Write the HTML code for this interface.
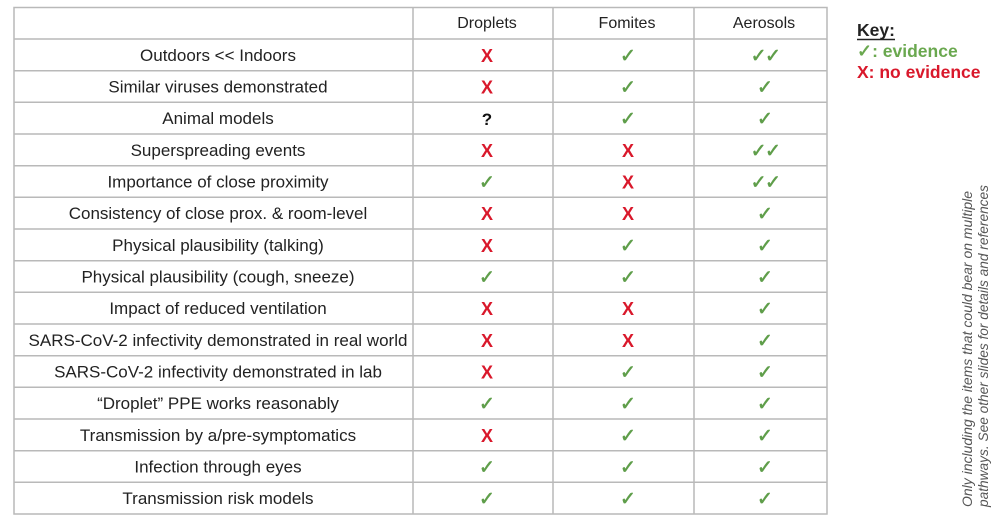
<!DOCTYPE html>
<html><head><meta charset="utf-8"><style>
html,body{margin:0;padding:0;background:#fff;}
svg{display:block;}
.lab{font-family:"Liberation Sans",Arial,sans-serif;font-size:17px;fill:#222;text-anchor:middle;}
.hd{font-family:"Liberation Sans",Arial,sans-serif;font-size:16px;fill:#222;text-anchor:middle;}
.x{font-family:"Liberation Sans",Arial,sans-serif;font-size:18px;font-weight:bold;fill:#d9182b;text-anchor:middle;}
.q{font-family:"Liberation Sans",Arial,sans-serif;font-size:17px;font-weight:bold;fill:#111;text-anchor:middle;}
.c{font-family:"DejaVu Sans",sans-serif;font-size:19px;font-weight:bold;fill:#5f9e4a;stroke:#5f9e4a;stroke-width:0.6;text-anchor:middle;}
</style></head><body>
<svg width="1000" height="520" viewBox="0 0 1000 520" xmlns="http://www.w3.org/2000/svg">
<g stroke="#b9b9b9" stroke-width="1.5" fill="none">
<rect x="14" y="7.5" width="813" height="506.5"/>
<line x1="413" y1="7.5" x2="413" y2="514"/>
<line x1="553" y1="7.5" x2="553" y2="514"/>
<line x1="694" y1="7.5" x2="694" y2="514"/>
<line x1="14" y1="39" x2="827" y2="39"/>
<line x1="14" y1="70.7" x2="827" y2="70.7"/>
<line x1="14" y1="102.3" x2="827" y2="102.3"/>
<line x1="14" y1="134" x2="827" y2="134"/>
<line x1="14" y1="165.7" x2="827" y2="165.7"/>
<line x1="14" y1="197.3" x2="827" y2="197.3"/>
<line x1="14" y1="229" x2="827" y2="229"/>
<line x1="14" y1="260.7" x2="827" y2="260.7"/>
<line x1="14" y1="292.3" x2="827" y2="292.3"/>
<line x1="14" y1="324" x2="827" y2="324"/>
<line x1="14" y1="355.7" x2="827" y2="355.7"/>
<line x1="14" y1="387.3" x2="827" y2="387.3"/>
<line x1="14" y1="419" x2="827" y2="419"/>
<line x1="14" y1="450.7" x2="827" y2="450.7"/>
<line x1="14" y1="482.3" x2="827" y2="482.3"/>
</g>
<text class="hd" x="487" y="28">Droplets</text>
<text class="hd" x="627" y="28">Fomites</text>
<text class="hd" x="764" y="28">Aerosols</text>

<g id="rows">
<text class="lab" x="218" y="61">Outdoors &lt;&lt; Indoors</text>
<text class="x" x="487" y="62">X</text><text class="c" x="628" y="62">✓</text><text class="c" x="765" y="62" letter-spacing="-1.5">✓✓</text>

<text class="lab" x="218" y="92.5">Similar viruses demonstrated</text>
<text class="x" x="487" y="93.5">X</text><text class="c" x="628" y="93.5">✓</text><text class="c" x="765" y="93.5">✓</text>

<text class="lab" x="218" y="124">Animal models</text>
<text class="q" x="487" y="125">?</text><text class="c" x="628" y="125">✓</text><text class="c" x="765" y="125">✓</text>

<text class="lab" x="218" y="156">Superspreading events</text>
<text class="x" x="487" y="157">X</text><text class="x" x="628" y="157">X</text><text class="c" x="765" y="157" letter-spacing="-1.5">✓✓</text>

<text class="lab" x="218" y="187.5">Importance of close proximity</text>
<text class="c" x="487" y="188.5">✓</text><text class="x" x="628" y="188.5">X</text><text class="c" x="765" y="188.5" letter-spacing="-1.5">✓✓</text>

<text class="lab" x="218" y="219">Consistency of close prox. &amp; room-level</text>
<text class="x" x="487" y="220">X</text><text class="x" x="628" y="220">X</text><text class="c" x="765" y="220">✓</text>

<text class="lab" x="218" y="251">Physical plausibility (talking)</text>
<text class="x" x="487" y="252">X</text><text class="c" x="628" y="252">✓</text><text class="c" x="765" y="252">✓</text>

<text class="lab" x="218" y="282.5">Physical plausibility (cough, sneeze)</text>
<text class="c" x="487" y="283.5">✓</text><text class="c" x="628" y="283.5">✓</text><text class="c" x="765" y="283.5">✓</text>

<text class="lab" x="218" y="314">Impact of reduced ventilation</text>
<text class="x" x="487" y="315">X</text><text class="x" x="628" y="315">X</text><text class="c" x="765" y="315">✓</text>

<text class="lab" x="218" y="346">SARS-CoV-2 infectivity demonstrated in real world</text>
<text class="x" x="487" y="347">X</text><text class="x" x="628" y="347">X</text><text class="c" x="765" y="347">✓</text>

<text class="lab" x="218" y="377.5">SARS-CoV-2 infectivity demonstrated in lab</text>
<text class="x" x="487" y="378.5">X</text><text class="c" x="628" y="378.5">✓</text><text class="c" x="765" y="378.5">✓</text>

<text class="lab" x="218" y="409">“Droplet” PPE works reasonably</text>
<text class="c" x="487" y="410">✓</text><text class="c" x="628" y="410">✓</text><text class="c" x="765" y="410">✓</text>

<text class="lab" x="218" y="441">Transmission by a/pre-symptomatics</text>
<text class="x" x="487" y="442">X</text><text class="c" x="628" y="442">✓</text><text class="c" x="765" y="442">✓</text>

<text class="lab" x="218" y="472.5">Infection through eyes</text>
<text class="c" x="487" y="473.5">✓</text><text class="c" x="628" y="473.5">✓</text><text class="c" x="765" y="473.5">✓</text>

<text class="lab" x="218" y="504">Transmission risk models</text>
<text class="c" x="487" y="505">✓</text><text class="c" x="628" y="505">✓</text><text class="c" x="765" y="505">✓</text>
</g>

<g font-family="Liberation Sans, Arial, sans-serif" font-weight="bold" font-size="17.5">
<text x="857" y="36" fill="#222">Key:</text>
<line x1="857" y1="39.5" x2="895" y2="39.5" stroke="#222" stroke-width="1.5"/>
<text x="857" y="57" fill="#6aa84f"><tspan font-family="DejaVu Sans, sans-serif" font-size="18" stroke="#6aa84f" stroke-width="0.6">✓</tspan>: evidence</text>
<text x="857" y="78" fill="#d9182b">X: no evidence</text>
</g>

<g font-family="Liberation Sans, Arial, sans-serif" font-style="italic" font-size="13.5" fill="#555">
<text transform="translate(972,507) rotate(-90)" textLength="316" lengthAdjust="spacingAndGlyphs">Only including the items that could bear on multiple</text>
<text transform="translate(988,507) rotate(-90)" textLength="322" lengthAdjust="spacingAndGlyphs">pathways. See other slides for details and references</text>
</g>
</svg>
</body></html>
